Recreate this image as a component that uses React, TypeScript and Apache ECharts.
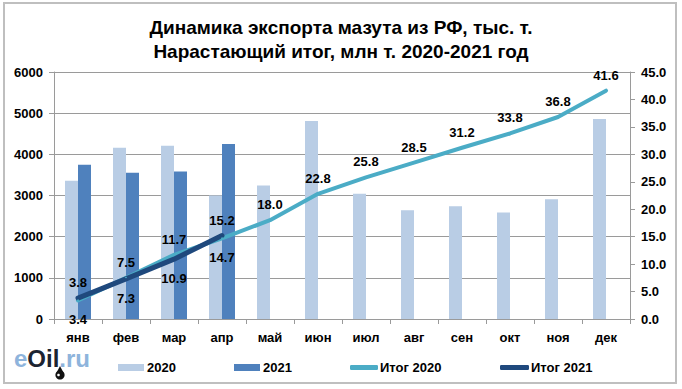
import React, { useEffect, useRef } from "react";
import * as echarts from "echarts";

const categories = ["янв", "фев", "мар", "апр", "май", "июн", "июл", "авг", "сен", "окт", "ноя", "дек"];
const export2020 = [3360, 4160, 4210, 3000, 3240, 4810, 3040, 2640, 2740, 2590, 2910, 4860];
const export2021 = [3750, 3550, 3580, 4250];
const total2020 = [3.4, 7.5, 11.7, 14.7, 18.0, 22.8, 25.8, 28.5, 31.2, 33.8, 36.8, 41.6];
const total2021 = [3.8, 7.3, 10.9, 15.2];
const below2020 = [0, 3];
const below2021 = [1, 2];

const titleText = "Динамика экспорта мазута из РФ, тыс. т.\nНарастающий итог, млн т. 2020-2021 год";
const FONT = "Liberation Sans, Arial, sans-serif";
const GRID = "#9a9a9a";

const C2020 = "#b9cde5";
const C2021 = "#4f81bd";
const CT2020 = "#4bacc6";
const CT2021 = "#1f497d";

function lineData(values: number[], below: number[]) {
  return values.map((v, i) =>
    below.includes(i)
      ? { value: v, label: { position: "bottom", distance: 12 } }
      : { value: v }
  );
}

const legendText = { fontFamily: FONT, fontWeight: "bold", fontSize: 13, color: "#000" };

export default function App() {
  const ref = useRef<HTMLDivElement>(null);
  useEffect(() => {
    const chart = echarts.init(ref.current!, null, { renderer: "svg" });
    const lineLabel = {
      show: true,
      position: "top",
      distance: 8,
      fontFamily: FONT,
      fontWeight: "bold",
      fontSize: 13,
      color: "#000",
      formatter: (p: any) => Number(p.value).toFixed(1),
    };
    chart.setOption({
      animation: false,
      backgroundColor: "#ffffff",
      title: {
        text: titleText,
        left: "center",
        top: 10,
        textStyle: {
          fontFamily: FONT,
          fontWeight: "bold",
          fontSize: 19,
          lineHeight: 24,
          color: "#000",
        },
      },
      grid: { left: 54, right: 52, top: 72, bottom: 70 },
      legend: [
        { data: ["2020"], left: 113, top: 356, itemWidth: 26, itemHeight: 7, icon: "rect", itemGap: 0, selectedMode: false, textStyle: { ...legendText, padding: [0, 0, 0, -2] } },
        { data: ["2021"], left: 229, top: 356, itemWidth: 26, itemHeight: 7, icon: "rect", itemGap: 0, selectedMode: false, textStyle: { ...legendText, padding: [0, 0, 0, -2] } },
        { data: ["Итог 2020"], left: 345, top: 356, itemWidth: 28, itemHeight: 5, icon: "roundRect", selectedMode: false, textStyle: { ...legendText, padding: [0, 0, 0, -3] } },
        { data: ["Итог 2021"], left: 495, top: 356, itemWidth: 29, itemHeight: 5, icon: "roundRect", selectedMode: false, textStyle: { ...legendText, padding: [0, 0, 0, -3] } },
      ],
      xAxis: {
        type: "category",
        data: categories,
        boundaryGap: true,
        axisLine: { show: true, lineStyle: { color: GRID, width: 1 } },
        axisTick: { show: true, length: 5, lineStyle: { color: GRID } },
        axisLabel: { fontFamily: FONT, fontWeight: "bold", fontSize: 13, color: "#000", margin: 12 },
      },
      yAxis: [
        {
          type: "value",
          min: 0,
          max: 6000,
          interval: 1000,
          axisLine: { show: true, lineStyle: { color: GRID } },
          axisTick: { show: true, length: 5, lineStyle: { color: GRID } },
          splitLine: { show: true, lineStyle: { color: GRID, width: 1 } },
          axisLabel: {
            fontFamily: FONT,
            fontWeight: "bold",
            fontSize: 13,
            color: "#000",
            margin: 11,
            formatter: (v: number) => String(v),
          },
        },
        {
          type: "value",
          min: 0,
          max: 45,
          interval: 5,
          position: "right",
          axisLine: { show: true, lineStyle: { color: GRID } },
          axisTick: { show: true, length: 5, lineStyle: { color: GRID } },
          splitLine: { show: false },
          axisLabel: {
            fontFamily: FONT,
            fontWeight: "bold",
            fontSize: 13,
            color: "#000",
            margin: 11,
            formatter: (v: number) => v.toFixed(1),
          },
        },
      ],
      series: [
        { name: "2020", type: "bar", data: export2020, barWidth: 13, barGap: "0%", itemStyle: { color: C2020 } },
        { name: "2021", type: "bar", data: export2021, barWidth: 13, barGap: "0%", itemStyle: { color: C2021 } },
        {
          name: "Итог 2020",
          type: "line",
          yAxisIndex: 1,
          data: lineData(total2020, below2020),
          symbol: "circle",
          symbolSize: 2,
          showSymbol: true,
          color: CT2020,
          lineStyle: { color: CT2020, width: 4, cap: "round", join: "round" },
          itemStyle: { color: CT2020 },
          label: lineLabel,
        },
        {
          name: "Итог 2021",
          type: "line",
          yAxisIndex: 1,
          data: lineData(total2021, below2021),
          symbol: "circle",
          symbolSize: 2,
          showSymbol: true,
          color: CT2021,
          lineStyle: { color: CT2021, width: 5, cap: "round", join: "round" },
          itemStyle: { color: CT2021 },
          label: lineLabel,
        },
      ],
      graphic: [
        {
          type: "rect",
          shape: { x: 4, y: 3, width: 672, height: 380 },
          style: { fill: "none", stroke: "#bfbfbf", lineWidth: 2 },
          silent: true,
        },
        {
          type: "text",
          x: 14,
          y: 346,
          style: {
            text: "{a|e}{b|Oil}{a|.ru}",
            verticalAlign: "top",
            rich: {
              a: { fill: "#8eb4dc", fontSize: 24, fontWeight: "bold", fontFamily: FONT },
              b: { fill: "#1c2431", fontSize: 24, fontWeight: "bold", fontFamily: FONT },
            },
          },
        },
        {
          type: "polygon",
          shape: { points: [[60, 366], [55.8, 374], [64.2, 374]] },
          style: { fill: "#111" },
        },
        {
          type: "circle",
          shape: { cx: 60, cy: 375, r: 4.6 },
          style: { fill: "#111" },
        },
        {
          type: "circle",
          shape: { cx: 58.5, cy: 375, r: 1.3 },
          style: { fill: "#ffffff" },
        },
      ],
    });
    return () => chart.dispose();
  }, []);
  return (
    <div
      ref={ref}
      style={{ position: "fixed", left: 0, top: 0, width: 682, height: 389, background: "#fff" }}
    />
  );
}
